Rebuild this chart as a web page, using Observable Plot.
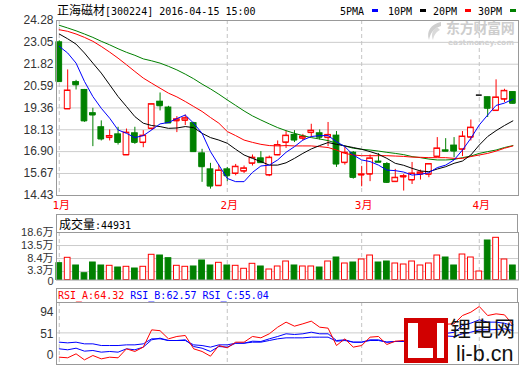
<!DOCTYPE html>
<html><head><meta charset="utf-8">
<script src="https://cdn.jsdelivr.net/npm/d3@7"></script>
<script src="https://cdn.jsdelivr.net/npm/@observablehq/plot@0.6"></script>
<style>
body{margin:0;background:#fff;}
#wrap{position:relative;width:520px;height:365px;overflow:hidden;background:#fff;}
.t{position:absolute;white-space:nowrap;}
.mono{font-family:"DejaVu Sans Mono",monospace;font-size:10px;}
.cjk{font-family:"Noto Sans CJK SC";font-size:12px;}
</style></head><body><div id="wrap"></div>
<script>
// ---- data ----
const openP  = [23.05,19.30,20.81,20.37,19.06,18.27,17.69,17.87,16.71,17.93,17.41,18.20,19.71,19.38,18.63,18.66,18.50,16.80,15.90,14.98,15.90,15.67,15.80,16.24,16.52,15.58,16.71,17.42,17.84,17.65,17.97,17.93,17.69,17.80,16.28,16.84,15.58,15.63,16.34,16.20,15.21,15.47,15.30,15.63,15.62,16.62,16.97,17.24,17.03,17.71,20.08,19.96,19.21,19.85,20.25];
const highP  = [23.14,21.50,20.91,20.40,19.34,18.63,18.12,18.27,18.17,18.27,18.08,19.57,20.20,19.45,18.87,18.96,18.55,17.03,16.24,16.14,16.01,16.18,16.09,16.71,16.90,16.65,17.50,18.06,18.08,17.87,18.44,18.12,18.54,18.03,17.18,16.90,16.07,16.71,16.79,16.28,15.90,15.62,16.29,15.86,16.20,17.69,17.63,17.69,18.03,18.68,20.08,19.96,20.94,20.41,20.25];
const lowP   = [20.80,19.30,20.37,18.55,17.18,17.50,17.50,17.27,16.71,17.31,17.12,18.10,19.19,18.48,17.97,18.37,16.90,15.17,14.79,14.98,15.21,15.54,15.67,16.09,16.24,15.49,16.67,17.08,17.41,17.50,17.69,17.55,17.18,16.01,16.14,15.35,14.92,15.21,16.28,15.11,15.21,14.68,15.05,15.30,15.43,16.62,16.90,16.56,16.62,17.50,20.08,18.82,19.21,19.66,19.57];
const closeP = [20.84,20.34,20.66,18.63,18.96,17.61,17.78,17.42,17.97,17.42,17.80,19.57,19.48,18.51,18.72,18.78,16.90,16.05,14.96,15.84,15.54,16.05,15.96,16.56,16.28,16.56,17.27,17.80,17.55,17.75,18.08,17.71,17.84,16.20,16.84,15.45,15.62,16.52,16.30,15.17,15.43,15.52,15.67,15.73,16.20,17.08,16.92,16.93,17.75,18.25,20.08,19.34,19.95,20.32,19.62];
const volume = [6.58,8.69,5.68,2.66,6.85,5.68,5.56,4.89,5.17,4.50,5.17,9.87,9.59,8.54,5.56,5.17,5.29,7.64,5.68,6.73,5.68,5.56,4.39,6.34,5.29,4.11,5.29,7.24,5.68,5.29,5.29,4.89,7.24,8.81,6.46,6.85,8.03,9.59,6.85,7.24,6.46,6.07,7.24,5.68,6.46,9.59,8.81,5.68,9.98,8.81,3.33,15.47,16.52,8.03,5.68];
const ma5  = [22.82,22.45,21.88,20.85,20.00,19.34,18.78,18.12,17.93,17.69,17.80,18.12,18.46,18.54,18.76,18.96,18.50,17.93,16.90,16.14,15.39,15.21,15.21,15.73,16.09,16.14,16.43,16.86,17.18,17.55,17.75,17.80,17.80,17.46,17.18,16.71,16.43,16.34,16.14,15.86,15.83,15.75,15.58,15.62,15.71,16.00,16.14,16.43,16.99,17.65,18.40,18.96,19.50,19.63,19.85];
const ma10 = [23.52,23.25,22.95,22.45,21.88,21.32,20.66,20.00,19.44,18.87,18.50,18.37,18.31,18.21,18.23,18.31,18.25,17.93,17.69,17.55,17.37,17.03,16.71,16.52,16.34,16.14,16.14,16.27,16.52,16.80,17.05,17.24,17.41,17.31,17.22,17.13,17.03,16.90,16.75,16.52,16.24,16.13,15.96,15.81,15.77,15.92,16.05,16.24,16.37,16.71,17.27,17.75,18.08,18.37,18.63];
const ma20 = [23.76,23.67,23.52,23.33,23.11,22.82,22.50,22.16,21.79,21.41,21.04,20.75,20.47,20.19,19.98,19.72,19.44,19.16,18.82,18.50,18.03,17.80,17.55,17.42,17.31,17.24,17.22,17.24,17.22,17.22,17.22,17.18,17.13,16.99,16.80,16.71,16.67,16.67,16.67,16.67,16.65,16.63,16.59,16.58,16.56,16.56,16.56,16.52,16.52,16.62,16.71,16.80,16.93,17.09,17.22];
const ma30 = [24.01,23.86,23.70,23.52,23.33,23.11,22.91,22.69,22.49,22.32,22.12,22.01,21.88,21.70,21.50,21.26,21.00,20.70,20.43,20.13,19.81,19.50,19.19,18.91,18.68,18.46,18.25,18.08,17.93,17.80,17.69,17.61,17.52,17.37,17.22,17.09,17.03,16.99,16.93,16.86,16.80,16.73,16.62,16.56,16.48,16.43,16.43,16.46,16.56,16.65,16.80,16.90,16.99,17.13,17.24];
const rsiA = [11.8,10.8,17.2,7.5,14.5,9.1,11.8,10.8,25.3,21.0,28.0,55.9,54.5,41.4,45.2,46.8,25.3,21.0,13.4,30.6,26.9,36.0,36.0,45.2,43.0,49.5,60.2,68.3,61.8,65.6,69.9,60.2,58.6,30.6,41.4,28.0,30.6,44.1,45.2,32.3,37.6,38.7,45,48,55,70,65,65.6,79.0,84.4,93.5,79.0,81.7,80.1,64.32];
const rsiB = [25.3,23.7,26.3,21.5,22.6,19.9,21.0,19.9,25.3,23.7,28.0,39.8,42.5,38.7,38.7,39.8,29.0,26.3,21.0,29.0,28.0,34.4,34.4,37.6,37.1,41.4,45.2,49.5,48.4,49.5,52.1,49.5,49.5,38.7,39.8,36.0,36.0,39.8,39.8,36.0,37.1,37.1,40,42,45,52,50,52,62.9,66.7,72.0,68.3,68.3,66.5,62.57];
const rsiC = [36.0,34.9,36.0,33.3,33.3,30.6,30.6,30.6,31.7,31.7,33.3,41.4,41.4,38.7,38.7,38.7,31.7,30.6,28.0,31.7,31.7,34.4,34.4,36.0,36.0,38.7,41.4,43.0,43.0,43.0,44.1,44.1,44.1,37.6,38.7,36.0,36.0,38.7,38.7,36.0,37.1,37.1,38.5,40,42,46,46,45.2,49.5,52.1,55.9,55.9,56.4,57.5,55.04];
const monthIdx = [0, 20, 36, 50];
const monthLabels = ["1月", "2月", "3月", "4月"];
const priceTicks = [24.28, 23.05, 21.82, 20.59, 19.36, 18.13, 16.90, 15.67, 14.43];
const volTicks = [0, 3.3, 8.4, 13.5, 18.6];
const rsiTicks = [94, 51, 0];
const maNames = ["5PMA", "10PM", "20PM", "30PM"];
const maColors = ["#0000ff", "#000000", "#ff0000", "#008000"];
const titleText = ["正海磁材", "[300224] 2016-04-15 15:00"];
const volTitle = ["成交量", ":44931"];
const rsiNames = ["RSI_A:64.32", "RSI_B:62.57", "RSI_C:55.04"];
const rsiColors = ["#ff0000", "#0000ff", "#0000ff"];

// ---- build ----
const RED = "#ff0000", GREEN = "#008000", BLACK = "#000000";
const candles = d3.range(closeP.length).map(i => {
  const col = closeP[i] > openP[i] ? RED : closeP[i] < openP[i] ? GREEN : BLACK;
  return {i, o: openP[i], h: highP[i], l: lowP[i], c: closeP[i], v: volume[i], col,
          vcol: col === GREEN ? GREEN : RED};
});
const xDomain = [-0.33, 54.67];
const hw = 0.34;
const wrap = document.getElementById("wrap");
const baseStyle = {fontFamily: "Liberation Sans, Arial, sans-serif", fontSize: "12px", background: "transparent", overflow: "visible"};
const grid = "#cccccc", frameC = "#999999", dash = "#c4c4c4";
const yAx = (ticks, extra) => Plot.axisY({ticks, tickSize: 0, tickPadding: 3, fill: "#333", label: null, ...extra});

const main = Plot.plot({
  width: 520, height: 212, marginLeft: 56, marginRight: 2, marginTop: 20, marginBottom: 17,
  x: {domain: xDomain, axis: null, label: null},
  y: {domain: [14.43, 24.28], axis: null, label: null},
  color: {type: "identity"},
  style: baseStyle,
  marks: [
    Plot.ruleY(priceTicks, {stroke: grid}),
    Plot.ruleX(monthIdx, {stroke: dash, strokeDasharray: "4,3"}),
    Plot.ruleX(candles, {x: "i", y1: "l", y2: "h", stroke: "col"}),
    Plot.rect(candles, {x1: d => d.i - hw, x2: d => d.i + hw, y1: "o", y2: "c",
      fill: d => d.col === RED ? "#fff" : d.col, stroke: "col"}),
    Plot.ruleY(candles, {y: "c", x1: d => d.i - hw, x2: d => d.i + hw, stroke: "col"}),
    Plot.ruleY(candles, {y: "o", x1: d => d.i - hw, x2: d => d.i + hw, stroke: "col"}),
    Plot.lineY(ma30, {stroke: maColors[3], strokeWidth: 1}),
    Plot.lineY(ma20, {stroke: maColors[2], strokeWidth: 1}),
    Plot.lineY(ma10, {stroke: maColors[1], strokeWidth: 1}),
    Plot.lineY(ma5, {stroke: maColors[0], strokeWidth: 1}),
    Plot.frame({stroke: frameC}),
    yAx(priceTicks, {tickFormat: d => d.toFixed(2)}),
    Plot.axisX({ticks: monthIdx, tickSize: 0, tickPadding: 6, dx: 2, label: null,
      tickFormat: d => monthLabels[monthIdx.indexOf(d)], fill: "#ff0000",
      fontFamily: "DejaVu Sans Mono, Noto Sans CJK SC", fontSize: 11})
  ]
});

const volFont = {fontFamily: "Liberation Sans, Noto Sans CJK SC", fontSize: 11};
const vol = Plot.plot({
  width: 520, height: 68, marginLeft: 56, marginRight: 2, marginTop: 18, marginBottom: 2.5,
  x: {domain: xDomain, axis: null, label: null},
  y: {domain: [0, 18.6], axis: null, label: null},
  color: {type: "identity"},
  style: baseStyle,
  marks: [
    Plot.ruleY(volTicks.slice(1, -1), {stroke: grid}),
    Plot.ruleX(monthIdx, {stroke: dash, strokeDasharray: "4,3"}),
    Plot.rect(candles, {x1: d => d.i - hw, x2: d => d.i + hw, y1: 0, y2: "v",
      fill: d => d.vcol === RED ? "#fff" : d.vcol, stroke: "vcol"}),
    Plot.frame({stroke: frameC}),
    yAx(volTicks.slice(2), {tickFormat: d => d + "万", ...volFont}),
    yAx([volTicks[1]], {tickFormat: d => d + "万", dy: -1.5, ...volFont}),
    yAx([volTicks[0]], {tickFormat: d => String(d), dy: 1, ...volFont})
  ]
});

const rsi = Plot.plot({
  width: 520, height: 79, marginLeft: 56, marginRight: 2, marginTop: 16, marginBottom: 1,
  x: {domain: xDomain, axis: null, label: null},
  y: {domain: [0, 100], axis: null, label: null},
  style: baseStyle,
  marks: [
    Plot.ruleY([51], {stroke: grid}),
    Plot.ruleX(monthIdx, {stroke: dash, strokeDasharray: "4,3"}),
    Plot.lineY(rsiC, {stroke: rsiColors[2], strokeWidth: 1}),
    Plot.lineY(rsiB, {stroke: rsiColors[1], strokeWidth: 1}),
    Plot.lineY(rsiA, {stroke: rsiColors[0], strokeWidth: 1}),
    Plot.frame({stroke: frameC}),
    yAx([rsiTicks[0]], {dy: 6}),
    yAx([rsiTicks[1]], {dy: 1}),
    yAx([rsiTicks[2]], {dy: -9})
  ]
});

function place(el, top) {
  el.style.position = "absolute"; el.style.left = "0px"; el.style.top = top + "px";
  wrap.appendChild(el);
}
place(main, 0); place(vol, 214); place(rsi, 286);

function div(html, css) {
  const d = document.createElement("div");
  d.className = "t"; d.innerHTML = html; d.style.cssText += css;
  wrap.appendChild(d); return d;
}
// header
div(`<span class="cjk">${titleText[0]}</span><span class="mono">${titleText[1]}</span>`,
  "left:57px;top:2px;line-height:15px;color:#000;");
// legend
const legX = [340, 388, 433, 478];
maNames.forEach((n, k) => {
  div(`<span class="mono">${n}</span>`, `left:${legX[k]}px;top:3px;line-height:14px;color:#000;`);
  div("", `left:${legX[k] + 32}px;top:9px;width:6px;height:3px;background:${maColors[k]};`);
});
// watermark
div("东方财富网", "left:446px;top:20px;font-family:'Noto Sans CJK SC';font-weight:bold;font-size:14px;line-height:15px;color:#cdcdcd;letter-spacing:-0.3px;");
div("eastmoney.com", "left:448px;top:39px;font-family:'DejaVu Sans';font-weight:bold;font-size:7.5px;line-height:7px;color:#d2d2d2;");
div(`<svg width="22" height="20"><path d="M18 1 C8 3 3 10 6 19 C7 12 11 7 18 5 Z" fill="#cfcfcf"/><path d="M14 6 C9 9 8 14 10 19 C11 14 13 11 17 9 Z" fill="#dadada"/></svg>`, "left:423px;top:21px;");
// volume title box
div(`<span class="cjk">${volTitle[0]}</span><span class="mono">${volTitle[1]}</span>`,
  "left:56px;top:214px;width:462px;height:18px;box-sizing:border-box;border:1px solid #999;border-bottom:none;padding-left:2px;line-height:17px;color:#000;");
// rsi title box
div(rsiNames.map((n, k) => `<span style="color:${rsiColors[k]}">${n}</span>`).join(" "),
  "left:56px;top:288px;width:462px;height:14px;box-sizing:border-box;border:1px solid #999;border-bottom:none;padding-left:1px;line-height:13px;font-family:'DejaVu Sans Mono',monospace;font-size:10px;");
// li-b.cn logo
div("", "left:404px;top:318px;width:44px;height:45px;background:#d10000;");
div("", "left:408px;top:323px;width:10px;height:35px;background:#fff;");
div("", "left:408px;top:348px;width:25px;height:10px;background:#fff;");
div("", "left:437px;top:323px;width:7px;height:35px;background:#fff;");
div("锂电网", "left:450px;top:317px;font-family:'Noto Sans CJK SC';font-size:21px;line-height:21px;letter-spacing:1px;color:#111;");
div("li-b.cn", "left:456px;top:344px;font-family:'Liberation Sans';font-size:21.5px;line-height:21px;color:#111;");
</script></body></html>
